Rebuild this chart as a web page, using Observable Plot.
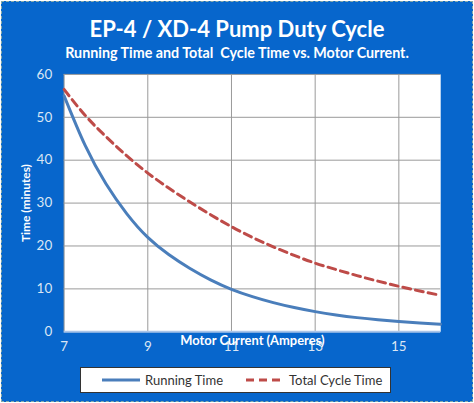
<!DOCTYPE html>
<html>
<head>
<meta charset="utf-8">
<script src="https://cdn.jsdelivr.net/npm/d3@7"></script>
<script src="https://cdn.jsdelivr.net/npm/@observablehq/plot@0.6"></script>
<style>
  body { margin: 0; background: #fff; }
  #wrap {
    position: relative; width: 470px; height: 399px; margin: 1px;
    background: #0766cc; border: 1px dashed #8aa; font-family: Lato, "Open Sans", sans-serif;
  }
  #title { position: absolute; top: 13px; left: 0; width: 470px; text-align: center;
    color: #fff; font-weight: bold; font-size: 22px; }
  #subtitle { position: absolute; top: 42px; left: 0; width: 470px; text-align: center;
    color: #fff; font-weight: bold; font-size: 14.3px; }
  #chart { position: absolute; top: 59px; left: -1px; }
  #legend { position: absolute; top: 365px; left: 78px; width: 309px; height: 24px;
    background: #fff; border: 1.5px solid #333; font-size: 13px; color: #333;
    display: flex; align-items: center; }
  #legend span { display: inline-flex; align-items: center; }
  #legend svg { margin-right: 5px; }
</style>
</head>
<body>
<div id="wrap">
  <div id="title">EP-4 / XD-4 Pump Duty Cycle</div>
  <div id="subtitle">Running Time and Total&nbsp; Cycle Time vs. Motor Current.</div>
  <div id="chart"></div>
  <div id="legend"></div>
</div>
<script>
// motor current (amperes) and times (minutes)
const current = [7, 7.5, 8, 8.5, 9, 9.5, 10, 10.5, 11, 11.5, 12, 12.5, 13, 13.5, 14, 14.5, 15, 15.5, 16];
const runningTime = [55, 43.5, 34.5, 27.5, 22, 18, 14.8, 12.1, 9.9, 8.2, 6.8, 5.65, 4.7, 3.93, 3.3, 2.8, 2.4, 2.05, 1.75];
const cycleTime = [56.5, 50.5, 45.5, 41, 37, 33.5, 30.3, 27.3, 24.5, 22, 19.8, 17.8, 16, 14.5, 13.1, 11.8, 10.6, 9.5, 8.5];
const xTicks = [7, 9, 11, 13, 15];
const yTicks = [0, 10, 20, 30, 40, 50, 60];

const seriesNames = ["Running Time", "Total Cycle Time"];
const blue = "#4a7ebb", red = "#be4b48";

const rows = current.map((c, i) => ({c, run: runningTime[i], cyc: cycleTime[i]}));

let chart = Plot.plot({
  width: 474,
  height: 300,
  marginTop: 13,
  marginBottom: 28,
  marginLeft: 63,
  marginRight: 32,
  style: {background: "transparent", fontFamily: "Lato, 'Open Sans', sans-serif", fontSize: "13.5px"},
  x: {domain: [7, 16], ticks: xTicks},
  y: {domain: [0, 60], ticks: yTicks},
  marks: [
    Plot.frame({fill: "white", stroke: null}),
    Plot.gridX(xTicks, {stroke: "#999", strokeOpacity: 1}),
    Plot.gridY(yTicks.slice(1), {stroke: "#999", strokeOpacity: 1}),
    Plot.ruleY([0], {stroke: "#a9c4e8", strokeWidth: 2}),
    Plot.axisX({ticks: xTicks, tickSize: 0, tickPadding: 10, label: null, color: "#dbe6f4"}),
    Plot.axisY({ticks: yTicks, tickSize: 0, tickPadding: 12, label: null, color: "#dbe6f4"}),
    Plot.line(rows, {x: "c", y: "cyc", stroke: red, strokeWidth: 3, strokeDasharray: "8,5", curve: "natural"}),
    Plot.line(rows, {x: "c", y: "run", stroke: blue, strokeWidth: 3, curve: "natural"}),
    Plot.text(["Motor Current (Amperes)"], {frameAnchor: "bottom", dy: 9, lineAnchor: "middle", fill: "white", fontWeight: "bold", fontSize: 13}),
    Plot.text(["Time (minutes)"], {frameAnchor: "left", dx: -38, rotate: -90, textAnchor: "middle", fill: "white", fontWeight: "bold", fontSize: 12})
  ]
});
d3.select("#chart").append(() => chart);

// legend
const legend = d3.select("#legend");
[[blue, null], [red, "8,5"]].forEach(([col, dash], i) => {
  const s = legend.append("span").style("margin-left", i === 0 ? "21px" : "23px");
  const svg = s.append("svg").attr("width", 38).attr("height", 10);
  svg.append("line").attr("x1", 0).attr("x2", 38).attr("y1", 5).attr("y2", 5)
    .attr("stroke", col).attr("stroke-width", 3).attr("stroke-dasharray", dash);
  s.append("text").text(seriesNames[i]);
});
</script>
</body>
</html>
